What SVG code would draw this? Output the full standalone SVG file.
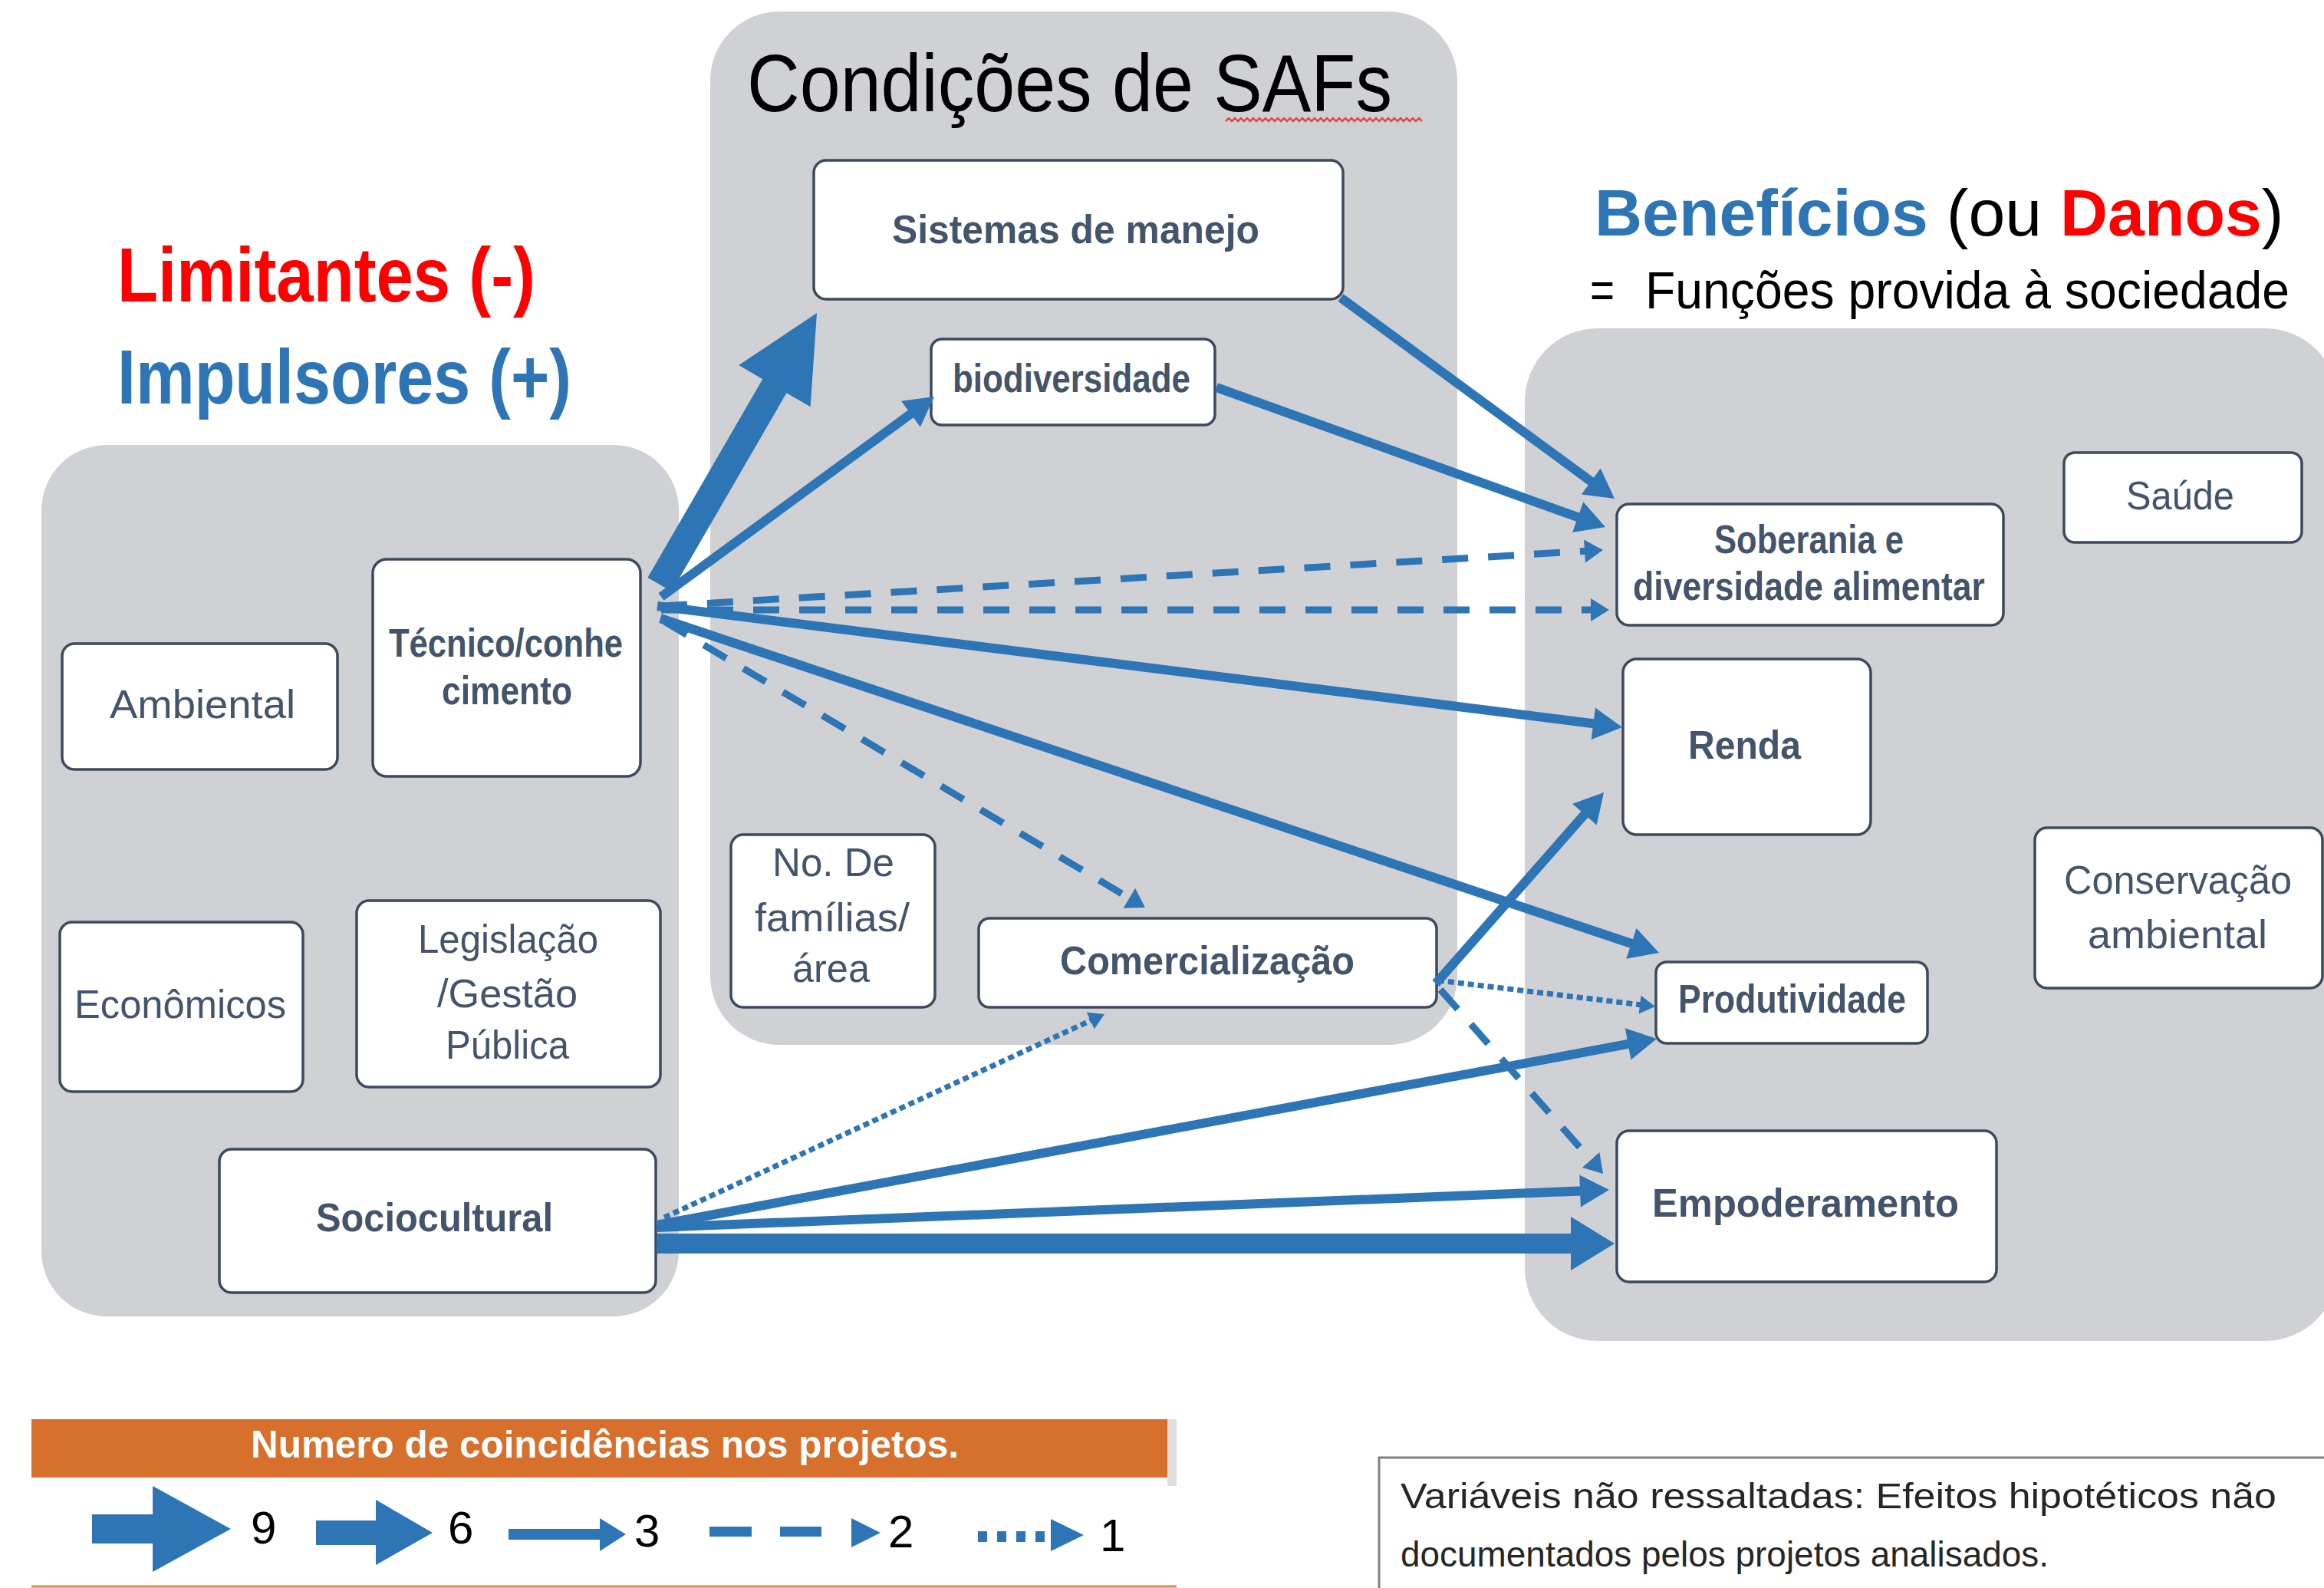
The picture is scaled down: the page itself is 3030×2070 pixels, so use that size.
<svg xmlns="http://www.w3.org/2000/svg" width="3030" height="2070" viewBox="0 0 3030 2070">
<defs>
<style>
.panel{fill:#D0D1D5}
.node rect{fill:#FFFFFF;stroke:#3E4A5C;stroke-width:3.5}
.t{font-family:"Liberation Sans",Arial,sans-serif;fill:#44546A;font-size:52px}
.b{font-weight:bold}
.title{font-family:"Liberation Sans",Arial,sans-serif}
.c3{stroke:#2E75B6;stroke-width:12;fill:none;marker-end:url(#h3)}
.c2{stroke:#2E75B6;stroke-width:9;fill:none;stroke-dasharray:34 26;marker-end:url(#h2)}
.c1{stroke:#2E75B6;stroke-width:7;fill:none;stroke-dasharray:8 5;marker-end:url(#h1)}
.fat{fill:#2E75B6}
.dig{font-family:"Liberation Sans",Arial,sans-serif;font-size:60px;fill:#000}
</style>
<marker id="h3" markerUnits="userSpaceOnUse" markerWidth="38" markerHeight="42" viewBox="0 0 38 42" refX="26" refY="21" orient="auto" overflow="visible"><path d="M0,0 L38,21 L0,42 z" fill="#2E75B6"/></marker>
<marker id="h2" markerUnits="userSpaceOnUse" markerWidth="24" markerHeight="30" viewBox="0 0 24 30" refX="14" refY="15" orient="auto" overflow="visible"><path d="M0,0 L24,15 L0,30 z" fill="#2E75B6"/></marker>
<marker id="h1" markerUnits="userSpaceOnUse" markerWidth="20" markerHeight="24" viewBox="0 0 20 24" refX="10" refY="12" orient="auto" overflow="visible"><path d="M0,0 L20,12 L0,24 z" fill="#2E75B6"/></marker>
</defs>
<rect width="3030" height="2070" fill="#FFFFFF"/>

<g id="panels">
<rect class="panel" x="54" y="580" width="831" height="1136" rx="85"/>
<rect class="panel" x="926" y="15" width="974" height="1347" rx="90"/>
<rect class="panel" x="1988" y="428" width="1060" height="1320" rx="95"/>
</g>

<g id="titles">
<text class="title" x="153" y="393" font-size="100" font-weight="bold" fill="#FF0000" textLength="545" lengthAdjust="spacingAndGlyphs">Limitantes (-)</text>
<text class="title" x="153" y="526" font-size="100" font-weight="bold" fill="#2E75B6" textLength="592" lengthAdjust="spacingAndGlyphs">Impulsores (+)</text>
<text class="title" x="974" y="145" font-size="106" fill="#000000" textLength="841" lengthAdjust="spacingAndGlyphs">Condições de SAFs</text>
<path d="M1598,158 l4,-4 l4,4 l4,-4 l4,4 l4,-4 l4,4 l4,-4 l4,4 l4,-4 l4,4 l4,-4 l4,4 l4,-4 l4,4 l4,-4 l4,4 l4,-4 l4,4 l4,-4 l4,4 l4,-4 l4,4 l4,-4 l4,4 l4,-4 l4,4 l4,-4 l4,4 l4,-4 l4,4 l4,-4 l4,4 l4,-4 l4,4 l4,-4 l4,4 l4,-4 l4,4 l4,-4 l4,4 l4,-4 l4,4 l4,-4 l4,4 l4,-4 l4,4 l4,-4 l4,4 l4,-4 l4,4 l4,-4 l4,4 l4,-4 l4,4 l4,-4 l4,4 l4,-4 l4,4 l4,-4 l4,4 l4,-4 l4,4 l4,-4 l4,4" fill="none" stroke="#E0484F" stroke-width="2.5"/>
<text class="title" x="2079" y="307" font-size="86" fill="#000000"><tspan font-weight="bold" fill="#2E75B6">Benefícios</tspan> (ou <tspan font-weight="bold" fill="#FF0000">Danos</tspan>)</text>
<text class="title" x="2073" y="402" font-size="68" fill="#000000" textLength="32" lengthAdjust="spacingAndGlyphs">=</text>
<text class="title" x="2145" y="402" font-size="68" fill="#000000" textLength="840" lengthAdjust="spacingAndGlyphs">Funções provida à sociedade</text>
</g>

<g id="node-sistemas" class="node"><rect x="1061" y="209" width="690" height="181" rx="16"/><text class="t b" x="1163" y="317" textLength="479" lengthAdjust="spacingAndGlyphs">Sistemas de manejo</text></g>
<g id="node-biodiversidade" class="node"><rect x="1214" y="442" width="370" height="112" rx="14"/><text class="t b" x="1242" y="511" textLength="310" lengthAdjust="spacingAndGlyphs">biodiversidade</text></g>
<g id="node-tecnico" class="node"><rect x="486" y="729" width="349" height="283" rx="18"/><text class="t b" x="507" y="856" textLength="305" lengthAdjust="spacingAndGlyphs">Técnico/conhe</text><text class="t b" x="576" y="918" textLength="170" lengthAdjust="spacingAndGlyphs">cimento</text></g>
<g id="node-ambiental" class="node"><rect x="81" y="839" width="359" height="164" rx="16"/><text class="t" x="143" y="936" textLength="242" lengthAdjust="spacingAndGlyphs">Ambiental</text></g>
<g id="node-economicos" class="node"><rect x="78" y="1202" width="317" height="221" rx="16"/><text class="t" x="97" y="1327" textLength="276" lengthAdjust="spacingAndGlyphs">Econômicos</text></g>
<g id="node-legislacao" class="node"><rect x="465" y="1174" width="396" height="243" rx="16"/><text class="t" x="545" y="1242" textLength="235" lengthAdjust="spacingAndGlyphs">Legislação</text><text class="t" x="570" y="1313" textLength="183" lengthAdjust="spacingAndGlyphs">/Gestão</text><text class="t" x="581" y="1380" textLength="161" lengthAdjust="spacingAndGlyphs">Pública</text></g>
<g id="node-sociocultural" class="node"><rect x="286" y="1498" width="569" height="187" rx="16"/><text class="t b" x="412" y="1605" textLength="309" lengthAdjust="spacingAndGlyphs">Sociocultural</text></g>
<g id="node-familias" class="node"><rect x="953" y="1088" width="266" height="225" rx="16"/><text class="t" x="1007" y="1142" textLength="159" lengthAdjust="spacingAndGlyphs">No. De</text><text class="t" x="984" y="1214" textLength="202" lengthAdjust="spacingAndGlyphs">famílias/</text><text class="t" x="1033" y="1280" textLength="101" lengthAdjust="spacingAndGlyphs">área</text></g>
<g id="node-comercializacao" class="node"><rect x="1276" y="1197" width="597" height="116" rx="14"/><text class="t b" x="1382" y="1270" textLength="384" lengthAdjust="spacingAndGlyphs">Comercialização</text></g>
<g id="node-soberania" class="node"><rect x="2108" y="657" width="504" height="158" rx="16"/><text class="t b" x="2235" y="721" textLength="247" lengthAdjust="spacingAndGlyphs">Soberania e</text><text class="t b" x="2129" y="782" textLength="459" lengthAdjust="spacingAndGlyphs">diversidade alimentar</text></g>
<g id="node-saude" class="node"><rect x="2691" y="590" width="310" height="117" rx="14"/><text class="t" x="2772" y="664" textLength="141" lengthAdjust="spacingAndGlyphs">Saúde</text></g>
<g id="node-renda" class="node"><rect x="2116" y="859" width="323" height="229" rx="18"/><text class="t b" x="2201" y="989" textLength="147" lengthAdjust="spacingAndGlyphs">Renda</text></g>
<g id="node-conservacao" class="node"><rect x="2653" y="1079" width="375" height="209" rx="16"/><text class="t" x="2691" y="1165" textLength="297" lengthAdjust="spacingAndGlyphs">Conservação</text><text class="t" x="2722" y="1236" textLength="234" lengthAdjust="spacingAndGlyphs">ambiental</text></g>
<g id="node-produtividade" class="node"><rect x="2159" y="1254" width="354" height="106" rx="14"/><text class="t b" x="2188" y="1320" textLength="297" lengthAdjust="spacingAndGlyphs">Produtividade</text></g>
<g id="node-empoderamento" class="node"><rect x="2108" y="1474" width="495" height="197" rx="16"/><text class="t b" x="2154" y="1586" textLength="400" lengthAdjust="spacingAndGlyphs">Empoderamento</text></g>

<g id="connectors">
<polygon class="fat" points="844.4,753 994.3,494.2 963.2,476.1 1065,408 1056.6,530.3 1025.5,512.2 875.6,771"/>
<line class="c3" x1="862" y1="778" x2="1208.4" y2="524.2"/>
<line class="c2" x1="862" y1="790" x2="2080" y2="717.6"/>
<line class="c2" x1="862" y1="795" x2="2088" y2="795"/>
<line class="c3" x1="857" y1="790" x2="2103.1" y2="946.5"/>
<line class="c3" x1="861" y1="806" x2="2151.6" y2="1238.2"/>
<line class="c2" x1="866" y1="810" x2="1484.4" y2="1177.9"/>
<line class="c3" x1="1748" y1="388" x2="2095.3" y2="642.9"/>
<line class="c3" x1="1586" y1="505" x2="2081.7" y2="682.9"/>
<line class="c3" x1="1872" y1="1282" x2="2083.1" y2="1042"/>
<line class="c1" x1="1875" y1="1278" x2="2148" y2="1310.8"/>
<line class="c2" x1="1878" y1="1290" x2="2083.4" y2="1522.5"/>
<line class="c1" x1="866" y1="1587" x2="1430.9" y2="1326.2"/>
<line class="c3" x1="856" y1="1597" x2="2148.2" y2="1356.2"/>
<line class="c3" x1="856" y1="1600" x2="2086" y2="1551.5"/>
<polygon class="fat" points="856,1608 2048,1608 2048,1586 2105,1621 2048,1656 2048,1634 856,1634"/>
</g>

<g id="legend">
<rect x="1522" y="1850" width="12" height="87" fill="#DEDEDE"/>
<rect x="41" y="1850" width="1481" height="76" fill="#D6702C"/>
<text class="title" x="327" y="1900" font-size="50" font-weight="bold" fill="#FFFFFF" textLength="923" lengthAdjust="spacingAndGlyphs">Numero de coincidências nos projetos.</text>
<polygon class="fat" points="120,1974 199,1974 199,1937 301,1993 199,2049 199,2012 120,2012"/>
<text class="dig" x="327" y="2012">9</text>
<polygon class="fat" points="412,1982 490,1982 490,1955 564,1998 490,2040 490,2014 412,2014"/>
<text class="dig" x="584" y="2012">6</text>
<polygon class="fat" points="663,1993 782,1993 782,1979 816,2000 782,2022 782,2007 663,2007"/>
<text class="dig" x="827" y="2016">3</text>
<rect class="fat" x="925" y="1990" width="55" height="13"/>
<rect class="fat" x="1017" y="1990" width="54" height="13"/>
<polygon class="fat" points="1110,1979 1148,1998 1110,2017"/>
<text class="dig" x="1158" y="2017">2</text>
<line x1="1275" y1="2003" x2="1372" y2="2003" stroke="#2E75B6" stroke-width="14" stroke-dasharray="12 13"/>
<polygon class="fat" points="1370,1980 1413,2001 1370,2022"/>
<text class="dig" x="1434" y="2022">1</text>
<line x1="41" y1="2068" x2="1534" y2="2068" stroke="#E0884A" stroke-width="3"/>
</g>

<g id="note">
<rect x="1798" y="1900" width="1300" height="300" fill="#FFFFFF" stroke="#7F7F7F" stroke-width="3"/>
<text class="title" x="1826" y="1966" font-size="46" fill="#262626" textLength="1142" lengthAdjust="spacingAndGlyphs">Variáveis não ressaltadas: Efeitos hipotéticos não</text>
<text class="title" x="1826" y="2042" font-size="46" fill="#262626" textLength="845" lengthAdjust="spacingAndGlyphs">documentados pelos projetos analisados.</text>
</g>
</svg>
